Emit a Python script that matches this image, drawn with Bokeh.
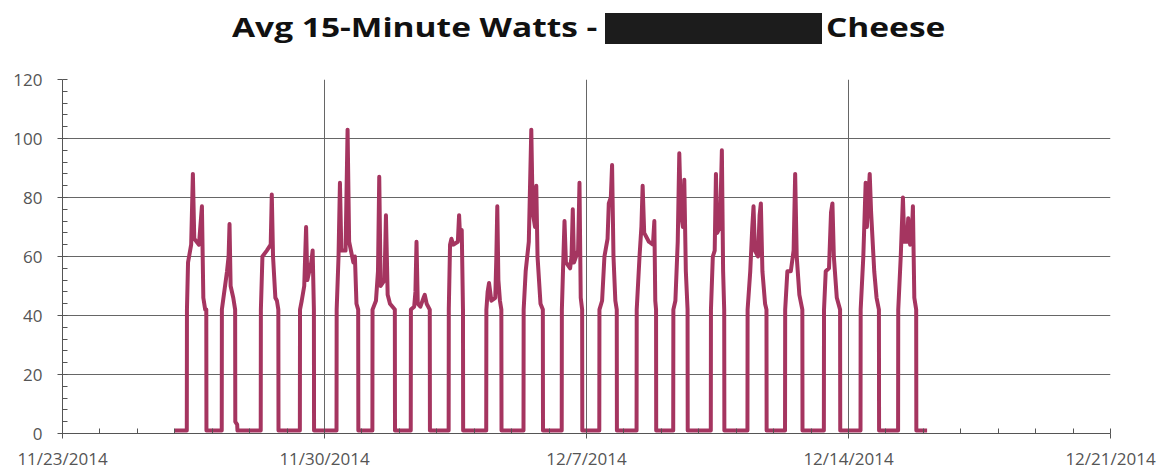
from bokeh.plotting import figure
from bokeh.models import Range1d, FixedTicker, ColumnDataSource, Div
from bokeh.layouts import column
from bokeh.embed import file_html
from bokeh.resources import INLINE

# ---- data ----
# x axis: days since 11/23/2014
tick_days = [0, 7, 14, 21, 28]
tick_labels = ["11/23/2014", "11/30/2014", "12/7/2014", "12/14/2014", "12/21/2014"]
y_ticks = [0, 20, 40, 60, 80, 100, 120]

title_left = "Avg 15-Minute Watts -"
title_right = "Cheese"

# first day with data (11/26) as day offset, and daily readings (hour of day, watts)
first_day = 3
day_hours = [
    [7.7, 7.8, 8.5, 10.5, 11.6, 12.5, 15.5, 17.4, 18.3, 19.5, 20.2, 20.3],
    [6.1, 6.2, 9.5, 10.5, 11.1, 11.8, 13.5, 14.7, 14.8, 16.0, 16.2],
    [7.1, 7.2, 8.2, 11.0, 13.5, 14.2, 15.0, 16.5, 17.5, 18.4, 18.5],
    [8.2, 8.3, 9.4, 11.0, 12.2, 13.0, 15.5, 16.4, 17.2, 17.3],
    [7.7, 7.8, 9.0, 9.9, 10.8, 13.5, 14.8, 15.8, 18.5, 19.5, 20.5, 21.6, 21.7],
    [6.7, 6.8, 9.0, 10.3, 11.1, 12.0, 14.5, 15.4, 16.5, 18.0, 21.1, 21.2],
    [7.3, 7.4, 9.5, 10.3, 11.0, 11.8, 13.5, 15.5, 16.3, 17.5, 19.5, 19.6],
    [7.6, 7.7, 8.5, 9.4, 10.5, 13.5, 14.3, 15.0, 16.0, 16.8, 16.9],
    [7.7, 7.8, 8.6, 9.5, 11.0, 13.5, 14.2, 14.8, 15.5, 16.5, 17.4, 17.5],
    [7.6, 7.7, 9.0, 11.0, 12.6, 13.5, 15.0, 15.8, 16.6, 18.5, 20.0, 20.1],
    [8.1, 8.2, 9.2, 9.9, 10.8, 13.5, 14.4, 15.2, 16.0, 18.6, 19.5, 20.3, 21.2, 21.3],
    [8.2, 8.3, 10.0, 11.5, 13.5, 14.3, 15.6, 16.4, 17.3, 18.5, 19.4, 19.5],
    [8.1, 8.2, 10.0, 11.2, 12.0, 13.0, 16.0, 18.6, 19.5, 20.1, 20.6, 20.7],
    [7.6, 7.7, 9.0, 10.5, 11.5, 12.5, 13.8, 14.7, 15.7, 16.8, 16.9],
    [7.7, 7.8, 9.0, 10.2, 11.0, 11.8, 13.6, 14.8, 15.6, 16.3, 16.4],
    [7.2, 7.3, 9.0, 10.3, 11.1, 12.0, 14.0, 15.0, 15.8, 16.8, 18.5, 19.4, 19.5],
    [7.3, 7.4, 8.8, 11.0, 12.8, 13.8, 14.8, 16.5, 18.4, 18.5],
    [8.2, 8.3, 9.4, 11.5, 12.8, 13.7, 14.6, 16.5, 18.6, 18.7],
    [7.7, 7.8, 9.5, 11.0, 11.8, 13.6, 14.5, 16.5, 18.0, 19.5, 19.6],
    [7.8, 7.9, 9.5, 10.9, 11.8, 13.5, 14.3, 15.5, 16.5, 17.3, 18.2, 19.4, 19.5],
]
day_watts = [
    [1, 42, 58, 64, 88, 66, 64, 77, 46, 42, 42, 1],
    [1, 42, 55, 60, 71, 50, 46, 42, 4, 3, 1],
    [1, 42, 60, 62, 64, 81, 60, 46, 45, 42, 1],
    [1, 42, 45, 50, 70, 52, 58, 62, 42, 1],
    [1, 42, 60, 85, 62, 62, 103, 65, 58, 60, 44, 42, 1],
    [1, 42, 45, 55, 87, 50, 52, 74, 47, 44, 42, 1],
    [1, 42, 43, 48, 65, 44, 43, 46, 47, 44, 42, 1],
    [1, 42, 64, 66, 64, 65, 74, 66, 69, 42, 1],
    [1, 42, 48, 51, 45, 46, 60, 77, 52, 45, 42, 1],
    [1, 42, 55, 65, 103, 75, 70, 84, 60, 44, 42, 1],
    [1, 42, 60, 72, 58, 56, 60, 76, 58, 62, 85, 46, 42, 1],
    [1, 42, 45, 60, 66, 78, 80, 91, 60, 45, 42, 1],
    [1, 42, 60, 70, 84, 68, 65, 64, 72, 45, 42, 1],
    [1, 42, 45, 65, 95, 75, 70, 86, 55, 42, 1],
    [1, 42, 60, 62, 88, 68, 70, 96, 55, 42, 1],
    [1, 42, 55, 70, 77, 62, 60, 74, 78, 55, 44, 42, 1],
    [1, 42, 55, 55, 62, 88, 60, 47, 42, 1],
    [1, 42, 55, 56, 75, 78, 60, 46, 42, 1],
    [1, 42, 60, 85, 70, 88, 75, 55, 46, 42, 1],
    [1, 42, 60, 80, 65, 65, 73, 64, 66, 77, 46, 42, 1],
]
idle_watts = 1

# ---- build the series ----
xs = [first_day + 0.0]
ys = [idle_watts]
for i, (hh, ww) in enumerate(zip(day_hours, day_watts)):
    for h, w in zip(hh, ww):
        xs.append(first_day + i + h / 24.0)
        ys.append(w)
xs.append(first_day + len(day_hours) + 0.1)
ys.append(idle_watts)
src = ColumnDataSource(dict(x=xs, y=ys))

W = 1160
DIV_H = 50
FIG_H = 422

p = figure(width=W, height=FIG_H, output_backend="svg", toolbar_location=None,
           x_range=Range1d(0, 28), y_range=Range1d(0, 120),
           min_border_left=62, min_border_right=50, min_border_top=29, min_border_bottom=39)
p.outline_line_color = None
p.background_fill_color = "white"
p.border_fill_color = "white"

p.line("x", "y", source=src, line_color="#A53560", line_width=4, line_join="round")

# axes
xa = p.xaxis[0]
xa.ticker = FixedTicker(ticks=tick_days, minor_ticks=list(range(0, 29)))
xa.major_label_overrides = {d: l for d, l in zip(tick_days, tick_labels)}
ya = p.yaxis[0]
ya.ticker = FixedTicker(ticks=y_ticks, minor_ticks=list(range(0, 121, 4)))
for ax in (xa, ya):
    ax.axis_line_color = "#555555"
    ax.major_tick_line_color = "#555555"
    ax.minor_tick_line_color = "#555555"
    ax.major_tick_in = 0
    ax.major_tick_out = 5
    ax.minor_tick_in = 5
    ax.minor_tick_out = 0
    ax.major_label_text_font = "Open Sans"
    ax.major_label_text_font_size = "17px"
    ax.major_label_text_color = "#555555"
xa.major_label_standoff = 8
ya.major_label_standoff = 15

p.xgrid.ticker = FixedTicker(ticks=tick_days)
p.ygrid.ticker = FixedTicker(ticks=y_ticks)
for g in (p.xgrid[0], p.ygrid[0]):
    g.grid_line_color = "#666666"
    g.grid_line_width = 1

# title: text, redaction box, text
span_style = ("position:absolute;top:11px;font-family:'Open Sans';font-weight:bold;"
              "font-size:27px;line-height:32px;color:#111;white-space:nowrap;"
              "transform:scaleX(1.24);transform-origin:left center;")
title_html = (
    f'<div style="position:relative;width:{W}px;height:{DIV_H}px;">'
    f'<span style="{span_style}left:232px;">{title_left}</span>'
    f'<span style="position:absolute;left:605px;top:13px;width:217px;height:31px;background:#1c1c1c;"></span>'
    f'<span style="{span_style}left:826px;">{title_right}</span>'
    '</div>'
)
title = Div(text=title_html, width=W, height=DIV_H, margin=(0, 0, 0, 0))

layout = column(title, p, spacing=0)
open("out.html", "w").write(file_html(layout, INLINE))
